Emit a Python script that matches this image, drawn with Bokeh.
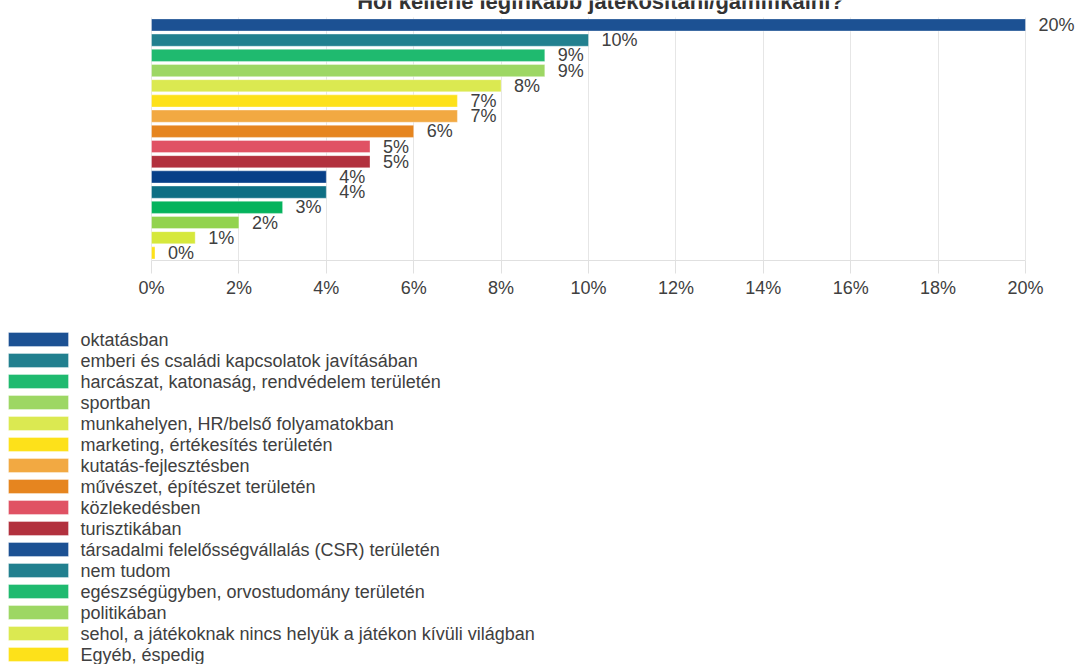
from bokeh.plotting import figure
from bokeh.models import Range1d, ColumnDataSource, LabelSet, Label, FixedTicker, PrintfTickFormatter
from bokeh.layouts import column
from bokeh.core.properties import value
from bokeh.embed import file_html
from bokeh.resources import INLINE

# ---------------- data ----------------
title_text = "Hol kellene leginkább játékosítani/gamifikálni?"
categories = [
    "oktatásban",
    "emberi és családi kapcsolatok javításában",
    "harcászat, katonaság, rendvédelem területén",
    "sportban",
    "munkahelyen, HR/belső folyamatokban",
    "marketing, értékesítés területén",
    "kutatás-fejlesztésben",
    "művészet, építészet területén",
    "közlekedésben",
    "turisztikában",
    "társadalmi felelősségvállalás (CSR) területén",
    "nem tudom",
    "egészségügyben, orvostudomány területén",
    "politikában",
    "sehol, a játékoknak nincs helyük a játékon kívüli világban",
    "Egyéb, éspedig",
]
values = [20, 10, 9, 9, 8, 7, 7, 6, 5, 5, 4, 4, 3, 2, 1, 0.08]
x_ticks = [0, 2, 4, 6, 8, 10, 12, 14, 16, 18, 20]

# ---------------- styles ----------------
legend_colors = ["#1c5193", "#22808f", "#1fba6f", "#9dd764", "#dbe951", "#fde11a",
                 "#f2a942", "#e6851f", "#e05264", "#b2313e",
                 "#1c5193", "#22808f", "#1fba6f", "#9dd764", "#dbe951", "#fde11a"]
bar_colors = ["#1c5193", "#22808f", "#1fba6f", "#9dd764", "#dbe951", "#fde11a",
              "#f2a942", "#e6851f", "#e05264", "#b2313e",
              "#073f88", "#0e6f84", "#05b35d", "#92d34e", "#d6e83c", "#fde11a"]
FONT = "Liberation Sans"
TEXT_COLOR = "#404040"
FS = "18px"
W = 1077

n = len(categories)
labels = [f"{round(v):.0f}%" for v in values]
src = ColumnDataSource(dict(
    y=[i + 0.5 for i in range(n)],
    v=values,
    lab=labels,
    col=bar_colors,
))

# pixel geometry of the plotting area (page coords)
X0, X1 = 151.0, 1025.0        # 0% and 20%
Y0, Y1 = 17.0, 262.0          # top of first bar slot, axis line
xs = (X1 - X0) / 20.0
ys = (Y1 - Y0) / n

# ---------------- bar chart ----------------
p = figure(width=W, height=300, output_backend="svg", toolbar_location=None,
           x_range=Range1d(-X0 / xs, 20 + (W - X1) / xs),
           y_range=Range1d(n, -Y0 / ys),
           min_border_left=0, min_border_right=0, min_border_top=0, min_border_bottom=38)
p.outline_line_color = None
p.background_fill_color = "white"
p.border_fill_color = "white"

p.hbar(y="y", right="v", left=0, height=0.8, fill_color="col",
       line_color="white", line_alpha=0.35, line_width=1, source=src)

p.add_layout(LabelSet(x="v", y="y", text="lab", source=src, x_offset=13,
                      text_font=value(FONT), text_font_size=value(FS),
                      text_color=TEXT_COLOR, text_baseline="middle", text_align="left"))

p.add_layout(Label(x=(600 - X0) / xs, y=(1.5 - Y0) / ys, text=title_text, text_font=FONT,
                   text_font_size="22px", text_font_style="bold",
                   text_color="#333333", text_align="center", text_baseline="alphabetic"))

p.yaxis.visible = False
p.ygrid.grid_line_color = None
p.xgrid.grid_line_color = "#e6e6e6"
p.xaxis.ticker = FixedTicker(ticks=x_ticks)
p.xgrid.ticker = FixedTicker(ticks=x_ticks)
if hasattr(p.xgrid[0], "cross_bounds"):
    p.xgrid.cross_bounds = (n, 0)
p.xaxis.bounds = (0, 20)
p.xaxis.formatter = PrintfTickFormatter(format="%d%%")
p.xaxis.axis_line_color = "#e0e0e0"
p.xaxis.major_tick_line_color = "#e0e0e0"
p.xaxis.major_tick_in = 0
p.xaxis.major_tick_out = 13
p.xaxis.minor_tick_line_color = None
p.xaxis.major_label_standoff = 4
p.xaxis.major_label_text_font = FONT
p.xaxis.major_label_text_font_size = FS
p.xaxis.major_label_text_color = TEXT_COLOR

# ---------------- legend ----------------
LH = 364
lsrc = ColumnDataSource(dict(
    y=[39 + 21 * i for i in range(n)],
    cat=categories,
    col=legend_colors,
))
q = figure(width=W, height=LH, output_backend="svg", toolbar_location=None,
           x_range=Range1d(0, W), y_range=Range1d(LH, 0),
           min_border=0)
q.outline_line_color = None
q.axis.visible = False
q.grid.grid_line_color = None
q.rect(x=38, y="y", width=60, height=14, fill_color="col",
       line_color="white", line_alpha=0.35, source=lsrc)
q.text(x=80, y="y", text="cat", source=lsrc, text_font=value(FONT),
       text_font_size=value(FS), text_color=TEXT_COLOR, text_baseline="middle",
       text_align="left")

layout = column(p, q, spacing=0)
open("out.html", "w").write(file_html(layout, INLINE))
